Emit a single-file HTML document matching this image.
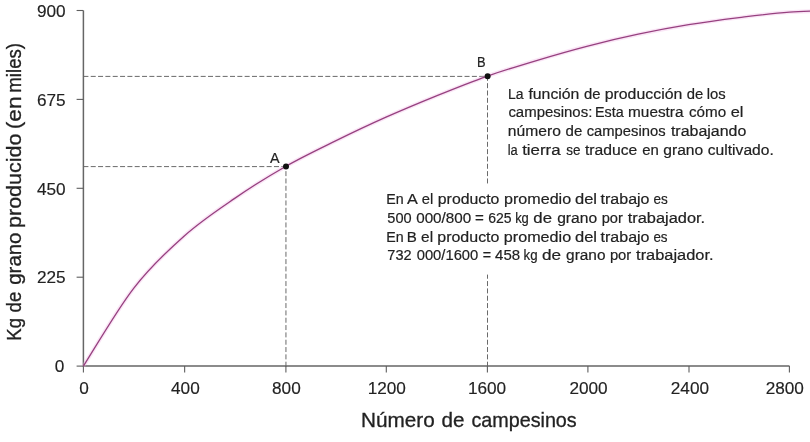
<!DOCTYPE html>
<html><head><meta charset="utf-8"><title>La función de producción de los campesinos</title>
<style>
html,body{margin:0;padding:0;background:#fff;}
svg{display:block;font-family:"Liberation Sans",sans-serif;fill:#222;}
.t{font-size:17.2px;stroke:#222;stroke-width:0.15px;}
.n{font-size:15.3px;stroke:#222;stroke-width:0.2px;}
.l{font-size:15.2px;stroke:#222;stroke-width:0.2px;}
.ax{font-size:20.3px;stroke:#222;stroke-width:0.3px;}
</style></head><body>
<svg width="810" height="442" viewBox="0 0 810 442">
<rect width="810" height="442" fill="#fff"/>
<g fill="none" stroke="#6a6a6a" stroke-width="1" stroke-dasharray="5,2.33">
<path d="M83.4,166.6 H286.0"/>
<path d="M83.4,76.4 H487.6"/>
<path d="M285.95,366.7 V166.6"/>
<path d="M487.5,366.7 V76.2"/>
</g>
<path d="M83.4,10.5 V366.1 H789.5" fill="none" stroke="#666" stroke-width="1.5"/>
<path d="M83.40,366.1 v6.4" stroke="#5e5e5e" stroke-width="1.1"/>
<text class="t" x="84.1" y="393.9" text-anchor="middle">0</text>
<path d="M184.65,366.1 v6.4" stroke="#5e5e5e" stroke-width="1.1"/>
<text class="t" x="185.4" y="393.9" text-anchor="middle">400</text>
<path d="M285.90,366.1 v6.4" stroke="#5e5e5e" stroke-width="1.1"/>
<text class="t" x="286.4" y="393.9" text-anchor="middle">800</text>
<path d="M386.30,366.1 v6.4" stroke="#5e5e5e" stroke-width="1.1"/>
<text class="t" x="386.8" y="393.9" text-anchor="middle">1200</text>
<path d="M487.40,366.1 v6.4" stroke="#5e5e5e" stroke-width="1.1"/>
<text class="t" x="487.0" y="393.9" text-anchor="middle">1600</text>
<path d="M587.90,366.1 v6.4" stroke="#5e5e5e" stroke-width="1.1"/>
<text class="t" x="588.5" y="393.9" text-anchor="middle">2000</text>
<path d="M689.00,366.1 v6.4" stroke="#5e5e5e" stroke-width="1.1"/>
<text class="t" x="689.9" y="393.9" text-anchor="middle">2400</text>
<path d="M789.40,366.1 v6.4" stroke="#5e5e5e" stroke-width="1.1"/>
<text class="t" x="784.8" y="393.9" text-anchor="middle">2800</text>
<path d="M83.4,366.1 h-6.8" stroke="#5e5e5e" stroke-width="1.1"/>
<text class="t" x="64.4" y="372.3" text-anchor="end">0</text>
<path d="M83.4,277.2 h-6.8" stroke="#5e5e5e" stroke-width="1.1"/>
<text class="t" x="65.7" y="283.4" text-anchor="end">225</text>
<path d="M83.4,188.3 h-6.8" stroke="#5e5e5e" stroke-width="1.1"/>
<text class="t" x="65.7" y="194.5" text-anchor="end">450</text>
<path d="M83.4,99.4 h-6.8" stroke="#5e5e5e" stroke-width="1.1"/>
<text class="t" x="65.7" y="105.6" text-anchor="end">675</text>
<path d="M83.4,10.5 h-6.8" stroke="#5e5e5e" stroke-width="1.1"/>
<text class="t" x="65.7" y="16.7" text-anchor="end">900</text>
<path d="M83.40,366.10 C91.81,353.09 117.02,309.76 133.84,288.07 C150.65,266.37 167.46,250.86 184.27,235.91 C201.08,220.96 217.90,209.91 234.71,198.38 C251.52,186.84 268.33,176.27 285.14,166.69 C301.95,157.11 318.77,149.14 335.58,140.89 C352.39,132.64 369.20,124.69 386.01,117.18 C402.83,109.67 419.64,102.66 436.45,95.84 C453.26,89.03 470.07,82.21 486.89,76.29 C503.70,70.36 520.51,65.32 537.32,60.28 C554.13,55.25 570.95,50.41 587.76,46.06 C604.57,41.71 621.38,37.76 638.19,34.21 C655.00,30.65 671.82,27.49 688.63,24.72 C705.44,21.96 722.25,19.72 739.06,17.61 C755.88,15.50 772.69,13.27 789.50,12.08 C806.31,10.90 831.53,10.76 839.94,10.50" fill="none" stroke="#f0b4e6" stroke-opacity="0.35" stroke-width="4"/>
<path d="M83.40,366.10 C91.81,353.09 117.02,309.76 133.84,288.07 C150.65,266.37 167.46,250.86 184.27,235.91 C201.08,220.96 217.90,209.91 234.71,198.38 C251.52,186.84 268.33,176.27 285.14,166.69 C301.95,157.11 318.77,149.14 335.58,140.89 C352.39,132.64 369.20,124.69 386.01,117.18 C402.83,109.67 419.64,102.66 436.45,95.84 C453.26,89.03 470.07,82.21 486.89,76.29 C503.70,70.36 520.51,65.32 537.32,60.28 C554.13,55.25 570.95,50.41 587.76,46.06 C604.57,41.71 621.38,37.76 638.19,34.21 C655.00,30.65 671.82,27.49 688.63,24.72 C705.44,21.96 722.25,19.72 739.06,17.61 C755.88,15.50 772.69,13.27 789.50,12.08 C806.31,10.90 831.53,10.76 839.94,10.50" fill="none" stroke="#96407f" stroke-width="1.3"/>
<circle cx="286.0" cy="166.6" r="3" fill="#111"/>
<circle cx="487.6" cy="76.2" r="3" fill="#111"/>
<text class="l" x="269.9" y="162.8" textLength="9.6" lengthAdjust="spacingAndGlyphs">A</text>
<text class="l" x="477" y="66.8" textLength="8.6" lengthAdjust="spacingAndGlyphs">B</text>
<rect x="381" y="184.4" width="336" height="90.2" fill="#fff"/>
<text class="n" y="98.7"><tspan x="507.99" textLength="15.56" lengthAdjust="spacingAndGlyphs">La</tspan> <tspan x="528.40" textLength="51.02" lengthAdjust="spacingAndGlyphs">función</tspan> <tspan x="584.00" textLength="16.49" lengthAdjust="spacingAndGlyphs">de</tspan> <tspan x="604.70" textLength="77.63" lengthAdjust="spacingAndGlyphs">producción</tspan> <tspan x="686.70" textLength="16.49" lengthAdjust="spacingAndGlyphs">de</tspan> <tspan x="706.83" textLength="18.93" lengthAdjust="spacingAndGlyphs">los</tspan></text>
<text class="n" y="117.4"><tspan x="508.40" textLength="83.92" lengthAdjust="spacingAndGlyphs">campesinos:</tspan> <tspan x="595.06" textLength="28.68" lengthAdjust="spacingAndGlyphs">Esta</tspan> <tspan x="628.10" textLength="55.41" lengthAdjust="spacingAndGlyphs">muestra</tspan> <tspan x="688.90" textLength="37.20" lengthAdjust="spacingAndGlyphs">cómo</tspan> <tspan x="730.70" textLength="12.73" lengthAdjust="spacingAndGlyphs">el</tspan></text>
<text class="n" y="136.1"><tspan x="507.88" textLength="53.04" lengthAdjust="spacingAndGlyphs">número</tspan> <tspan x="565.60" textLength="16.70" lengthAdjust="spacingAndGlyphs">de</tspan> <tspan x="586.70" textLength="78.86" lengthAdjust="spacingAndGlyphs">campesinos</tspan> <tspan x="670.90" textLength="75.43" lengthAdjust="spacingAndGlyphs">trabajando</tspan></text>
<text class="n" y="154.8"><tspan x="507.72" textLength="10.00" lengthAdjust="spacingAndGlyphs">la</tspan> <tspan x="522.20" textLength="38.36" lengthAdjust="spacingAndGlyphs">tierra</tspan> <tspan x="566.20" textLength="14.25" lengthAdjust="spacingAndGlyphs">se</tspan> <tspan x="584.90" textLength="52.32" lengthAdjust="spacingAndGlyphs">traduce</tspan> <tspan x="642.20" textLength="16.59" lengthAdjust="spacingAndGlyphs">en</tspan> <tspan x="663.30" textLength="39.92" lengthAdjust="spacingAndGlyphs">grano</tspan> <tspan x="707.80" textLength="65.98" lengthAdjust="spacingAndGlyphs">cultivado.</tspan></text>
<text class="n" y="204.3"><tspan x="386.37" textLength="17.40" lengthAdjust="spacingAndGlyphs">En</tspan> <tspan x="407.10" textLength="9.92" lengthAdjust="spacingAndGlyphs">A</tspan> <tspan x="421.80" textLength="11.48" lengthAdjust="spacingAndGlyphs">el</tspan> <tspan x="437.80" textLength="61.63" lengthAdjust="spacingAndGlyphs">producto</tspan> <tspan x="504.00" textLength="67.13" lengthAdjust="spacingAndGlyphs">promedio</tspan> <tspan x="575.00" textLength="22.03" lengthAdjust="spacingAndGlyphs">del</tspan> <tspan x="600.60" textLength="48.93" lengthAdjust="spacingAndGlyphs">trabajo</tspan> <tspan x="653.40" textLength="14.29" lengthAdjust="spacingAndGlyphs">es</tspan></text>
<text class="n" y="223.0"><tspan x="387.30" textLength="24.28" lengthAdjust="spacingAndGlyphs">500</tspan> <tspan x="416.20" textLength="55.00" lengthAdjust="spacingAndGlyphs">000/800</tspan> <tspan x="475.10" textLength="8.83" lengthAdjust="spacingAndGlyphs">=</tspan> <tspan x="488.20" textLength="23.36" lengthAdjust="spacingAndGlyphs">625</tspan> <tspan x="515.15" textLength="13.68" lengthAdjust="spacingAndGlyphs">kg</tspan> <tspan x="533.30" textLength="18.66" lengthAdjust="spacingAndGlyphs">de</tspan> <tspan x="557.20" textLength="39.92" lengthAdjust="spacingAndGlyphs">grano</tspan> <tspan x="601.70" textLength="21.19" lengthAdjust="spacingAndGlyphs">por</tspan> <tspan x="627.70" textLength="77.44" lengthAdjust="spacingAndGlyphs">trabajador.</tspan></text>
<text class="n" y="241.6"><tspan x="386.37" textLength="17.40" lengthAdjust="spacingAndGlyphs">En</tspan> <tspan x="406.81" textLength="10.09" lengthAdjust="spacingAndGlyphs">B</tspan> <tspan x="421.10" textLength="12.00" lengthAdjust="spacingAndGlyphs">el</tspan> <tspan x="437.30" textLength="62.13" lengthAdjust="spacingAndGlyphs">producto</tspan> <tspan x="503.80" textLength="67.34" lengthAdjust="spacingAndGlyphs">promedio</tspan> <tspan x="575.00" textLength="22.03" lengthAdjust="spacingAndGlyphs">del</tspan> <tspan x="600.60" textLength="48.93" lengthAdjust="spacingAndGlyphs">trabajo</tspan> <tspan x="653.40" textLength="14.19" lengthAdjust="spacingAndGlyphs">es</tspan></text>
<text class="n" y="260.3"><tspan x="387.30" textLength="24.28" lengthAdjust="spacingAndGlyphs">732</tspan> <tspan x="416.70" textLength="61.59" lengthAdjust="spacingAndGlyphs">000/1600</tspan> <tspan x="482.70" textLength="8.34" lengthAdjust="spacingAndGlyphs">=</tspan> <tspan x="495.10" textLength="25.00" lengthAdjust="spacingAndGlyphs">458</tspan> <tspan x="523.53" textLength="14.01" lengthAdjust="spacingAndGlyphs">kg</tspan> <tspan x="541.96" textLength="19.06" lengthAdjust="spacingAndGlyphs">de</tspan> <tspan x="566.10" textLength="39.41" lengthAdjust="spacingAndGlyphs">grano</tspan> <tspan x="609.90" textLength="21.39" lengthAdjust="spacingAndGlyphs">por</tspan> <tspan x="636.10" textLength="77.44" lengthAdjust="spacingAndGlyphs">trabajador.</tspan></text>
<text class="ax" y="427"><tspan x="361.08" textLength="73.71" lengthAdjust="spacingAndGlyphs">Número</tspan> <tspan x="441.60" textLength="22.98" lengthAdjust="spacingAndGlyphs">de</tspan> <tspan x="471.40" textLength="105.34" lengthAdjust="spacingAndGlyphs">campesinos</tspan></text>
<text class="ax" transform="translate(20.7,0) rotate(-90)" y="0"><tspan x="-340.63" textLength="22.82" lengthAdjust="spacingAndGlyphs">Kg</tspan> <tspan x="-312.45" textLength="20.75" lengthAdjust="spacingAndGlyphs">de</tspan> <tspan x="-284.80" textLength="52.28" lengthAdjust="spacingAndGlyphs">grano</tspan> <tspan x="-227.96" textLength="94.36" lengthAdjust="spacingAndGlyphs">producido</tspan> <tspan x="-129.31" textLength="32.83" lengthAdjust="spacingAndGlyphs">(en</tspan> <tspan x="-92.69" textLength="49.75" lengthAdjust="spacingAndGlyphs">miles)</tspan></text>
</svg>
</body></html>
